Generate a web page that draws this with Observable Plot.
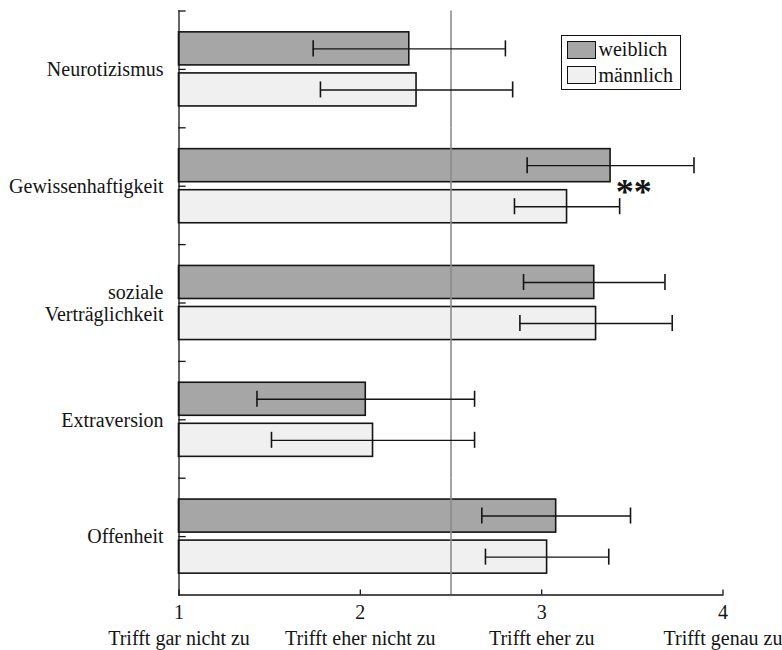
<!DOCTYPE html>
<html>
<head>
<meta charset="utf-8">
<script src="https://cdn.jsdelivr.net/npm/d3@7"></script>
<script src="https://cdn.jsdelivr.net/npm/@observablehq/plot@0.6"></script>
<style>
  html, body { margin: 0; padding: 0; background: #fff; }
  #wrap { position: relative; width: 782px; height: 650px; font-family: "Liberation Serif", "Times New Roman", serif; }
  #legend { position: absolute; left: 560.5px; top: 35px; width: 120.5px; height: 55px; border: 1px solid #111; box-sizing: border-box; background: #fff; font-size: 20px; color: #111; }
  #legend .row { position: absolute; left: 5px; height: 19px; display: flex; align-items: center; }
  #legend .sw { width: 29px; height: 18px; border: 1px solid #111; margin-right: 3px; box-sizing: border-box; }
  #legend .lab { line-height: 19px; }
  svg text { font-family: "Liberation Serif", "Times New Roman", serif; }
</style>
</head>
<body>
<div id="wrap">
  <div id="chart"></div>
  <div id="legend"></div>
</div>
<script>
// ---- data ----
const categories = ["Neurotizismus", "Gewissenhaftigkeit", "soziale Verträglichkeit", "Extraversion", "Offenheit"];
const categoryLabels = ["Neurotizismus", "Gewissenhaftigkeit", "soziale\nVerträglichkeit", "Extraversion", "Offenheit"];
const sexes = ["weiblich", "männlich"];
const meanWeiblich = [2.27, 3.38, 3.29, 2.03, 3.08];
const sdWeiblich   = [0.53, 0.46, 0.39, 0.60, 0.41];
const meanMaennlich = [2.31, 3.14, 3.30, 2.07, 3.03];
const sdMaennlich   = [0.53, 0.29, 0.42, 0.56, 0.34];
const xTicks = [1, 2, 3, 4];
const scaleLabels = ["Trifft gar nicht zu", "Trifft eher nicht zu", "Trifft eher zu", "Trifft genau zu"];
const midpoint = [2.5];
const significance = [{category: "Gewissenhaftigkeit", sex: "männlich", label: "**"}];
const sexColors = ["#a6a6a6", "#f0f0f0"];

// ---- table built from arrays ----
const rows = [];
categories.forEach((c, i) => {
  rows.push({category: c, sex: sexes[0], mean: meanWeiblich[i], lo: meanWeiblich[i] - sdWeiblich[i], hi: meanWeiblich[i] + sdWeiblich[i]});
  rows.push({category: c, sex: sexes[1], mean: meanMaennlich[i], lo: meanMaennlich[i] - sdMaennlich[i], hi: meanMaennlich[i] + sdMaennlich[i]});
});
const sigRows = significance.map(s => {
  const r = rows.find(d => d.category === s.category && d.sex === s.sex);
  return {...s, x: r.hi};
});

const W = 782, H = 650;
const mL = 178.5, mR = 59.5, mT = 10.5, mB = 55.5;
const facetH = (H - mT - mB) / categories.length;
const innerW = W - mL - mR;
const ink = "#151515";
const serif = '"Liberation Serif", "Times New Roman", serif';

const chart = Plot.plot({
  width: W, height: H,
  marginLeft: mL, marginRight: mR, marginTop: mT, marginBottom: mB,
  style: {fontFamily: serif, fontSize: "20px", background: "#fff", color: ink, overflow: "visible"},
  x: {domain: [xTicks[0], xTicks[xTicks.length - 1]], label: null},
  y: {domain: sexes, paddingInner: 0.195, paddingOuter: 0.52, round: false, axis: null, label: null},
  fy: {domain: categories, padding: 0, round: false, axis: null, label: null},
  color: {domain: sexes, range: sexColors},
  marks: [
    Plot.barX(rows, {fy: "category", y: "sex", x1: () => xTicks[0], x2: "mean", fill: "sex", stroke: ink, strokeWidth: 1.6}),
    Plot.ruleX(midpoint, {x: d => d, stroke: "#8c8c8c", strokeWidth: 1.6}),
    Plot.ruleY(rows, {fy: "category", y: "sex", x1: "lo", x2: "hi", stroke: ink, strokeWidth: 1.4}),
    Plot.tickX(rows, {fy: "category", y: "sex", x: "lo", stroke: ink, strokeWidth: 1.6, insetTop: 8.5, insetBottom: 8.5}),
    Plot.tickX(rows, {fy: "category", y: "sex", x: "hi", stroke: ink, strokeWidth: 1.6, insetTop: 8.5, insetBottom: 8.5}),
    Plot.text(sigRows, {fy: "category", x: "x", text: "label", textAnchor: "start", dx: -4, dy: 6, fontSize: 36, fontWeight: "bold", fill: ink, fontFamily: serif}),
    // left axis line and inner ticks
    Plot.frame({anchor: "left", stroke: ink, strokeWidth: 1.3}),
    Plot.frame({anchor: "top", stroke: ink, strokeWidth: 1.3, insetRight: innerW - 6}),
    Plot.frame({anchor: "top", stroke: ink, strokeWidth: 1.3, insetRight: innerW - 6, insetTop: facetH / 2}),
    // bottom axis line and inner ticks
    Plot.frame({anchor: "bottom", facetAnchor: "bottom", stroke: ink, strokeWidth: 1.3}),
    Plot.tickX(xTicks, {x: d => d, facetAnchor: "bottom", stroke: ink, strokeWidth: 1.3, insetTop: facetH - 5}),
    Plot.axisFy({anchor: "left", tickSize: 0, tickPadding: 15.5, fontSize: 20, lineHeight: 1.07, label: null, fontFamily: serif,
      tickFormat: d => categoryLabels[categories.indexOf(d)], fill: ink}),
    Plot.axisX({ticks: xTicks, tickSize: 0, tickPadding: 9.5, fontSize: 20, label: null, fontFamily: serif, tickFormat: d => String(d), fill: ink}),
    Plot.axisX({ticks: xTicks, tickSize: 0, tickPadding: 36, fontSize: 20, label: null, fontFamily: serif, tickFormat: d => scaleLabels[xTicks.indexOf(d)], fill: ink})
  ]
});
document.getElementById("chart").appendChild(chart);

// legend (HTML overlay)
const legend = document.getElementById("legend");
sexes.forEach((s, i) => {
  const row = document.createElement("div");
  row.className = "row";
  row.style.top = (4 + i * 25.5) + "px";
  const sw = document.createElement("div");
  sw.className = "sw";
  sw.style.background = sexColors[i];
  const lab = document.createElement("span");
  lab.className = "lab";
  lab.textContent = s;
  row.appendChild(sw); row.appendChild(lab);
  legend.appendChild(row);
});
</script>
</body>
</html>
